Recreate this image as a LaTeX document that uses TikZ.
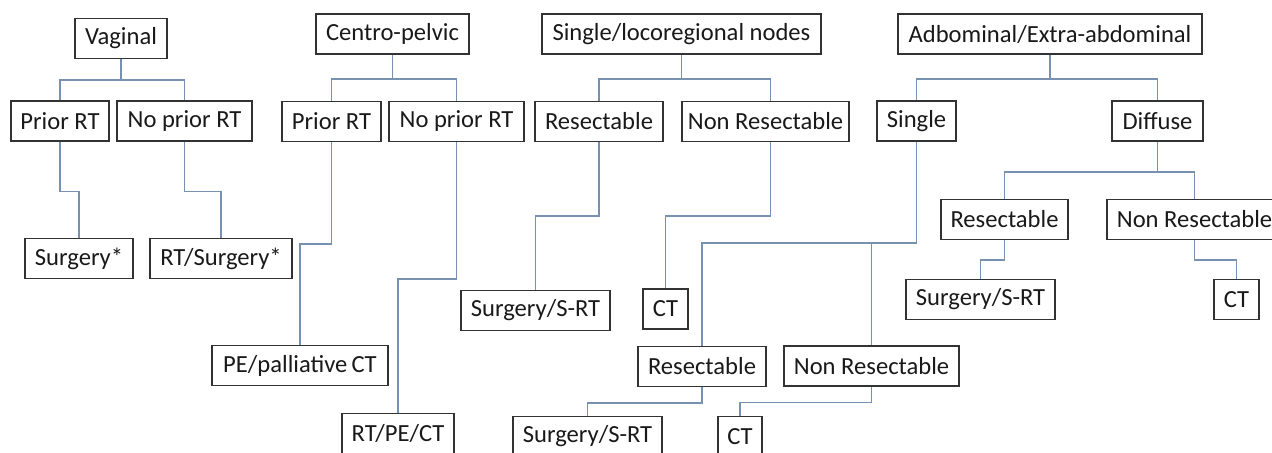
\documentclass[tikz,border=0pt]{standalone}
\usepackage{fontspec}
\setmainfont{Carlito}
\definecolor{conncol}{RGB}{118,146,176}
\definecolor{boxcol}{RGB}{50,50,50}
\begin{document}
\begin{tikzpicture}[x=0.5pt,y=-0.5pt,
  box/.style={draw=boxcol, line width=0.65pt, inner sep=0pt, minimum height=20pt,
              font=\fontsize{12.3}{14}\selectfont, text=black!90},
  conn/.style={draw=conncol, line width=0.7pt}]
\useasboundingbox (0,0) rectangle (1272,452);
% Vaginal
\node[box,minimum width=46pt] (vag) at (121,38.5) {Vaginal};
\node[box,minimum width=49pt] (vprior) at (60,121) {Prior RT};
\node[box,minimum width=67.5pt] (vnoprior) at (184.5,121) {No prior RT};
\node[box,minimum width=54pt] (vsurg) at (79,258.5) {Surgery*};
\node[box,minimum width=71pt] (vrtsurg) at (221,258.5) {RT/Surgery*};
% Centro-pelvic
\node[box,minimum width=76.5pt] (cp) at (392.5,34) {Centro-pelvic};
\node[box,minimum width=49.5pt] (cprior) at (331.5,121.5) {Prior RT};
\node[box,minimum width=67.5pt] (cnoprior) at (456.5,121.5) {No prior RT};
\node[box,minimum width=88pt] (cpe) at (300,365.5) {PE/palliative\,CT};
\node[box,minimum width=56pt] (crtpe) at (398,433.5) {RT/PE/CT};
% Single/locoregional nodes
\node[box,minimum width=139.5pt] (snodes) at (681.5,34) {Single/locoregional nodes};
\node[box,minimum width=64pt] (sres) at (599,121.5) {Resectable};
\node[box,minimum width=83.5pt] (snon) at (765.5,121.5) {Non Resectable};
\node[box,minimum width=74.5pt] (ssurg) at (535.5,310.5) {Surgery/S-RT};
\node[box,minimum width=22.5pt] (sct) at (665.5,309) {CT};
% Abdominal
\node[box,minimum width=152pt] (abd) at (1050,34) {Adbominal/Extra-abdominal};
\node[box,minimum width=39.5pt] (asingle) at (916.5,121) {Single};
\node[box,minimum width=45.5pt] (adiffuse) at (1157.5,121) {Diffuse};
\node[box,minimum width=63.5pt] (dres) at (1004.5,219.5) {Resectable};
\node[box,minimum width=87.5pt] (dnon) at (1194.5,219.5) {Non Resectable};
\node[box,minimum width=74.5pt] (dsurg) at (980.5,299.5) {Surgery/S-RT};
\node[box,minimum width=22.5pt] (dct) at (1236.5,299.5) {CT};
\node[box,minimum width=64pt] (gres) at (702,366.5) {Resectable};
\node[box,minimum width=87.5pt] (gnon) at (871.5,366) {Non Resectable};
\node[box,minimum width=74.5pt] (gsurg) at (587.5,436.5) {Surgery/S-RT};
\node[box,minimum width=22pt] (gct) at (740,436.5) {CT};
% junctions
\coordinate (vj) at (121,80);
\coordinate (cj) at (392.5,79);
\coordinate (sj) at (681.5,79);
\coordinate (aj) at (1050,79);
\coordinate (dj) at (1157.5,172);
\coordinate (gj) at (916.5,243);
% connectors
\draw[conn] (vag.south) -- (vj) -| (vprior.north);
\draw[conn] (vj) -| (vnoprior.north);
\draw[conn] (vprior.south) -- ++(0,50) -| (vsurg.north);
\draw[conn] (vnoprior.south) -- ++(0,50) -| (vrtsurg.north);
\draw[conn] (cp.south) -- (cj) -| (cprior.north);
\draw[conn] (cj) -| (cnoprior.north);
\draw[conn] (cprior.south) -- ++(0,102) -| (cpe.north);
\draw[conn] (cnoprior.south) -- ++(0,137) -| (crtpe.north);
\draw[conn] (snodes.south) -- (sj) -| (sres.north);
\draw[conn] (sj) -| ([xshift=2.5pt]snon.north);
\draw[conn] (sres.south) -- ++(0,74) -| (ssurg.north);
\draw[conn] ([xshift=2.5pt]snon.south) -- ++(0,74) -| (sct.north);
\draw[conn] (abd.south) -- (aj) -| (asingle.north);
\draw[conn] (aj) -| (adiffuse.north);
\draw[conn] (adiffuse.south) -- (dj) -| (dres.north);
\draw[conn] (dj) -| (dnon.north);
\draw[conn] (dres.south) -- ++(0,20) -| (dsurg.north);
\draw[conn] (dnon.south) -- ++(0,20) -| (dct.north);
\draw[conn] (asingle.south) -- (gj) -| (gres.north);
\draw[conn] (gj) -| (gnon.north);
\draw[conn] (gres.south) -- ++(0,16) -| (gsurg.north);
\draw[conn] (gnon.south) -- ++(0,16) -| (gct.north);
\end{tikzpicture}
\end{document}
